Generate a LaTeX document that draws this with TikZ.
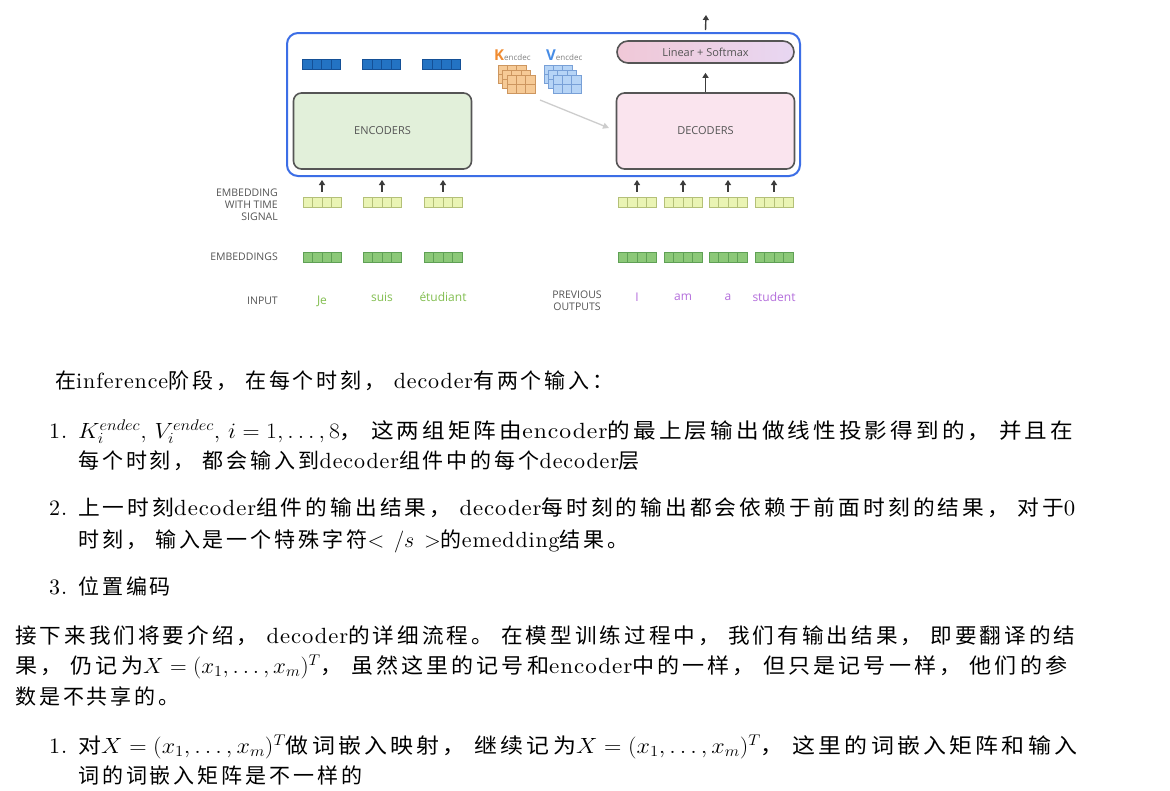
\RequirePackage{fix-cm}
\documentclass[tikz,border=0pt]{standalone}
\usepackage{graphicx}
\usepackage{fontspec}
\setmainfont{lmroman10-regular.otf}[ItalicFont=lmroman10-italic.otf,BoldFont=lmroman10-bold.otf,LetterSpace=4]
\newfontfamily\cjk[LetterSpace=14]{Noto Sans CJK SC}
\newfontfamily\dsans{Open Sans}
\usetikzlibrary{arrows.meta}
\newcommand\zh[1]{{\fontsize{21}{24}\cjk #1}}
\newcommand\zcomma{，\hspace{8pt}}
\newcommand\zstop{。\hspace{8pt}}
\newcommand\bfsz{\fontsize{22}{26}\selectfont}
\newcommand\fitto[2]{\resizebox{#1}{\height}{#2}}
\definecolor{bluebox}{RGB}{60,110,230}
\definecolor{topvec}{RGB}{35,115,195}
\definecolor{topvecl}{RGB}{20,80,150}
\definecolor{encfill}{RGB}{226,240,218}
\definecolor{decfill}{RGB}{250,228,238}
\definecolor{boxline}{RGB}{85,85,85}
\definecolor{smleft}{RGB}{240,200,215}
\definecolor{smright}{RGB}{232,215,242}
\definecolor{yfill}{RGB}{234,244,180}
\definecolor{yline}{RGB}{180,192,120}
\definecolor{gfill}{RGB}{140,200,120}
\definecolor{gline}{RGB}{95,160,85}
\definecolor{labgray}{RGB}{85,85,85}
\definecolor{wgreen}{RGB}{130,190,80}
\definecolor{wpurple}{RGB}{180,110,220}
\definecolor{korange}{RGB}{240,140,50}
\definecolor{kfill}{RGB}{246,202,150}
\definecolor{kline}{RGB}{205,150,95}
\definecolor{vblue}{RGB}{70,140,230}
\definecolor{vfill}{RGB}{182,212,246}
\definecolor{vline}{RGB}{120,160,215}
\definecolor{arrgray}{RGB}{60,60,60}
\definecolor{lightarr}{RGB}{205,205,205}
\tikzset{
  cells/.style={path picture={\foreach \k in {1,2,3}{\draw[#1,line width=0.8pt] ([xshift=\k*9.5pt]path picture bounding box.north west) -- ([xshift=\k*9.5pt]path picture bounding box.south west);}}},
  vecbox/.style={minimum width=38pt,minimum height=10pt,inner sep=0pt,line width=0.8pt},
  bvec/.style={vecbox,fill=topvec,draw=topvecl,cells=topvecl},
  yvec/.style={vecbox,fill=yfill,draw=yline,cells=yline},
  gvec/.style={vecbox,fill=gfill,draw=gline,cells=gline},
  bigbox/.style={draw=boxline,line width=1.6pt,rounded corners=8pt,minimum width=178pt,minimum height=76pt,font=\dsans\fontsize{11}{13}\selectfont,text=labgray},
  arr/.style={draw=arrgray,line width=1.4pt,-{Triangle[length=5pt,width=6pt]}},
  lab/.style={font=\dsans\fontsize{10.5}{12}\selectfont,text=labgray,inner sep=0pt},
  word/.style={font=\dsans\fontsize{12}{14}\selectfont,inner sep=0pt},
  bodytext/.style={inner sep=0pt,anchor=base west},
}
\begin{document}
\begin{tikzpicture}[x=1pt,y=-1pt]
\useasboundingbox[fill=white] (0,0) rectangle (1170,790);
% outer blue box
\node[draw=bluebox,line width=2pt,rounded corners=11pt,minimum width=513pt,minimum height=143pt] (outer) at (543.5,104.5) {};
% encoder / decoder
\node[bigbox,fill=encfill] (enc) at (382.5,131) {ENCODERS};
\node[bigbox,fill=decfill] (dec) at (705.5,131) {DECODERS};
\node[draw=boxline,line width=1.6pt,rounded corners=11pt,minimum width=177pt,minimum height=22pt,left color=smleft,right color=smright,font=\dsans\fontsize{11}{13}\selectfont,text=labgray,inner sep=0pt] (sm) at (705.5,52) {Linear + Softmax};
\coordinate (topend) at (706,15);
\draw[arr] ([yshift=2pt]outer.north -| sm.north) -- (topend);
\draw[arr] (dec.north) -- ([yshift=-9pt]sm.south);
% encoder output vectors
\node[bvec] (o1) at (321.5,64.5) {};
\node[bvec] (o2) at (381.5,64.5) {};
\node[bvec] (o3) at (441.5,64.5) {};
% K and V stacks
\foreach \o in {2,1,0}{
  \fill[kfill] (507-4.5*\o,75-5*\o) rectangle ++(28,18);
  \draw[kline,line width=0.7pt] (507-4.5*\o,75-5*\o) rectangle ++(28,18);
  \draw[kline,line width=0.7pt] (507-4.5*\o+9.333,75-5*\o) -- ++(0,18) (507-4.5*\o+18.667,75-5*\o) -- ++(0,18) (507-4.5*\o,84-5*\o) -- ++(28,0);
  \fill[vfill] (553-4.5*\o,75-5*\o) rectangle ++(28,18);
  \draw[vline,line width=0.7pt] (553-4.5*\o,75-5*\o) rectangle ++(28,18);
  \draw[vline,line width=0.7pt] (553-4.5*\o+9.333,75-5*\o) -- ++(0,18) (553-4.5*\o+18.667,75-5*\o) -- ++(0,18) (553-4.5*\o,84-5*\o) -- ++(28,0);
}
\node[inner sep=0pt,anchor=base west] (klab) at (494,60) {\dsans\textcolor{korange}{\fontsize{15}{15}\selectfont\bfseries K}\textcolor{gray}{\fontsize{8}{8}\selectfont encdec}};
\node[inner sep=0pt,anchor=base west] (vlab) at (546,60) {\dsans\textcolor{vblue}{\fontsize{15}{15}\selectfont\bfseries V}\textcolor{gray}{\fontsize{8}{8}\selectfont encdec}};
\coordinate (ga) at (540,100);
\coordinate (gb) at (609,128);
\draw[lightarr,line width=1.3pt,-{Triangle[length=6pt,width=6pt]}] (ga) -- (gb);
% encoder inputs
\foreach \n/\x/\w/\wy in {1/322/Je/301,2/382/suis/297,3/443/étudiant/297}{
  \node[yvec] (et\n) at (\x,202) {};
  \node[gvec] (eg\n) at (\x,257) {};
  \node[word,text=wgreen] (ew\n) at (\x,\wy) {\w};
  \draw[arr] ([yshift=5pt]et\n.north) -- ([yshift=-3pt]et\n.north |- outer.south);
}
% decoder inputs
\foreach \n/\x/\w in {1/637/I,2/683/am,3/728/a,4/774/student}{
  \node[yvec] (dt\n) at (\x,202) {};
  \node[gvec] (dg\n) at (\x,257) {};
  \node[word,text=wpurple] (dw\n) at (\x,297) {\w};
  \draw[arr] ([yshift=5pt]dt\n.north) -- ([yshift=-3pt]dt\n.north |- outer.south);
}
% row labels
\node[lab,anchor=east,align=right] (l1) at (278,205) {EMBEDDING\\WITH TIME\\SIGNAL};
\node[lab,anchor=east] (l2) at (278,257) {EMBEDDINGS};
\node[lab,anchor=east] (l3) at (278,301) {INPUT};
\node[lab,align=center] (l4) at (577,300.5) {PREVIOUS\\OUTPUTS};
% text block
\node[bodytext] (t1) at (55,388) {\bfsz\zh{在}inference\zh{阶段\zcomma 在每个时刻\zcomma}decoder\zh{有两个输入：}};
\node[bodytext] (n1) at (49,438) {\bfsz 1.};
\node[bodytext] (t2) at (78,438) {\bfsz\fitto{995pt}{$K_i^{endec},\,V_i^{endec},\,i=1,\ldots,8$\zh{\zcomma 这两组矩阵由}encoder\zh{的最上层输出做线性投影得到的\zcomma 并且在}}};
\node[bodytext] (t3) at (78,468) {\bfsz\zh{每个时刻\zcomma 都会输入到}decoder\zh{组件中的每个}decoder\zh{层}};
\node[bodytext] (n2) at (49,515) {\bfsz 2.};
\node[bodytext] (t4) at (78,515) {\bfsz\fitto{997pt}{\zh{上一时刻}decoder\zh{组件的输出结果\zcomma}decoder\zh{每时刻的输出都会依赖于前面时刻的结果\zcomma 对于}0}};
\node[bodytext] (t5) at (78,547) {\bfsz\zh{时刻\zcomma 输入是一个特殊字符}$<\,/s\,>$\zh{的}emedding\zh{结果。}};
\node[bodytext] (n3) at (49,594) {\bfsz 3.};
\node[bodytext] (t6) at (78,594) {\bfsz\zh{位置编码}};
\node[bodytext] (t7) at (15,643) {\bfsz\fitto{1060pt}{\zh{接下来我们将要介绍\zcomma}decoder\zh{的详细流程\zstop 在模型训练过程中\zcomma 我们有输出结果\zcomma 即要翻译的结}}};
\node[bodytext] (t8) at (15,673) {\bfsz\fitto{1052pt}{\zh{果\zcomma 仍记为}$X=(x_1,\ldots,x_m)^T$\zh{\zcomma 虽然这里的记号和}encoder\zh{中的一样\zcomma 但只是记号一样\zcomma 他们的参}}};
\node[bodytext] (t9) at (15,704) {\bfsz\zh{数是不共享的。}};
\node[bodytext] (n4) at (49,753) {\bfsz 1.};
\node[bodytext] (t10) at (78,753) {\bfsz\fitto{999pt}{\zh{对}$X=(x_1,\ldots,x_m)^T$\zh{做词嵌入映射\zcomma 继续记为}$X=(x_1,\ldots,x_m)^T$\zh{\zcomma 这里的词嵌入矩阵和输入}}};
\node[bodytext] (t11) at (78,783) {\bfsz\zh{词的词嵌入矩阵是不一样的}};
\end{tikzpicture}
\end{document}
